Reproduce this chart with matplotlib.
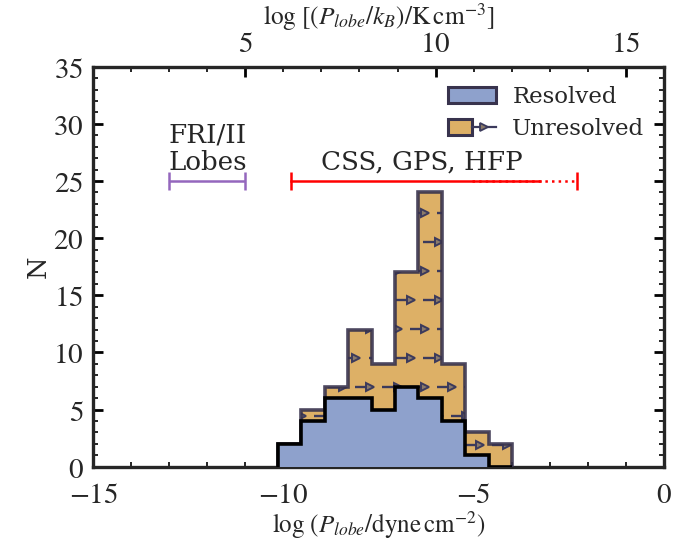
import numpy as np
import matplotlib
matplotlib.use("Agg")
import matplotlib.pyplot as plt
from matplotlib.patches import Patch
from matplotlib.lines import Line2D
from matplotlib.legend_handler import HandlerTuple
from matplotlib.ticker import FuncFormatter

plt.rcParams['font.family'] = ['DejaVu Serif']
plt.rcParams['mathtext.fontset'] = 'stix'

# histogram data
edges = np.array([-10.15, -9.53, -8.92, -8.30, -7.68, -7.07, -6.45, -5.83, -5.22, -4.60, -3.98])
resolved = np.array([2, 4, 6, 6, 5, 7, 6, 4, 1, 0])
unresolved = np.array([0, 1, 1, 6, 4, 10, 18, 5, 2, 2])
total = resolved + unresolved

# pressure ranges
fr_range = [-13.0, -11.0]
css_solid = [-9.8, -3.25]
css_dotted = [-5.05, -2.28]
range_y = 25

c_blue = '#8ea1cc'
c_orange = '#ddb066'
c_edge = '#38334d'
c_hatch = '#3b3a5c'
c_text = '#262626'

mathfmt = FuncFormatter(lambda v, p: r'$%g$' % v)

fig = plt.figure(figsize=(6.99, 5.42), dpi=100)
ax = fig.add_axes([0.1335, 0.139, 0.816, 0.738])

tot = ax.stairs(total, edges, fill=True, facecolor=c_orange, edgecolor='none', zorder=1)
ax.stairs(total, edges, fill=False, edgecolor=c_edge, lw=2.6, alpha=0.9, zorder=3)

# arrow "hatch" inside the unresolved histogram
dy = 2.535
dx = 0.72
shaft = 0.4
for i, yy in enumerate(np.arange(1.9, 25, dy)):
    off = (i % 2) * dx / 2
    starts = np.arange(-11 + off, -3, dx)
    for s in starts:
        ln, = ax.plot([s, s + shaft], [yy, yy], color=c_hatch, lw=1.7, zorder=2,
                      solid_capstyle='butt')
        ln.set_clip_path(tot)
    mk, = ax.plot(starts + shaft, np.full(len(starts), yy), ls='none', marker='>',
                  ms=5.5, mfc='#8a7a6a', mec=c_hatch, mew=1.4, zorder=2)
    mk.set_clip_path(tot)

ax.stairs(resolved, edges, fill=True, facecolor=c_blue, edgecolor='none', zorder=4)
ax.stairs(resolved, edges, fill=False, edgecolor='black', lw=2.6, zorder=5)

# range bars
ax.errorbar(np.mean(fr_range), range_y, xerr=(fr_range[1] - fr_range[0]) / 2,
            fmt='none', ecolor='#9467bd', elinewidth=1.8, capsize=6.5, capthick=1.8)
ax.plot(css_solid, [range_y, range_y], color='red', lw=1.8)
ax.plot(css_dotted, [range_y, range_y], color='red', lw=1.8, ls=':')
ax.plot([css_solid[0], css_dotted[1]], [range_y, range_y], ls='none', marker='|',
        ms=13, mew=1.8, color='red')

ax.text(np.mean(fr_range), 25.55, 'FRI/II\nLobes', ha='center', va='bottom',
        fontsize=18.8, color=c_text, linespacing=1.12)
ax.text(-6.35, 25.55, 'CSS, GPS, HFP', ha='center', va='bottom', fontsize=18.8,
        color=c_text)

ax.set_xlim(-15, 0)
ax.set_ylim(0, 35)
ax.set_xticks(np.arange(-15, 1, 5))
ax.set_xticks(np.arange(-15, 1, 1), minor=True)
ax.set_yticks(np.arange(0, 36, 5))
ax.set_yticks(np.arange(0, 36, 1), minor=True)
ax.xaxis.set_major_formatter(mathfmt)
ax.yaxis.set_major_formatter(mathfmt)
ax.tick_params(which='both', direction='in', right=True, top=False,
               labelsize=21, labelcolor=c_text, width=2)
ax.tick_params(which='major', length=7, pad=7)
ax.tick_params(axis='x', which='major', pad=10.5)
ax.tick_params(which='minor', length=3.5, width=1.2)
for sp in ax.spines.values():
    sp.set_linewidth(2.4)
    sp.set_color(c_text)

ax.set_xlabel(r'$\log\,(P_{lobe}/{\rm dyne\,cm^{-2}})$', fontsize=18, color=c_text,
              labelpad=0)
ax.set_ylabel('N', fontsize=18.5, color=c_text, labelpad=2)

top = ax.secondary_xaxis('top', functions=(lambda x: x + 16, lambda x: x - 16))
top.set_xticks([5, 10, 15])
top.set_xticks(np.arange(1, 17, 1), minor=True)
top.xaxis.set_major_formatter(mathfmt)
top.tick_params(which='both', direction='in', labelsize=21, labelcolor=c_text,
                width=2)
top.tick_params(which='major', length=7, pad=6)
top.tick_params(which='minor', length=3.5, width=1.2)
top.set_xlabel(r'$\log\,[(P_{lobe}/k_B)/{\rm K\,cm^{-3}}]$', fontsize=18.3,
               color=c_text, labelpad=4)

h_res = Patch(facecolor=c_blue, edgecolor=c_edge, lw=2.2)
h_unres = (Patch(facecolor=c_orange, edgecolor=c_edge, lw=2.2),
           Line2D([], [], color=c_hatch, lw=1.6, marker='>', ms=5.5, mfc='#8a7a6a',
                  mec=c_hatch, mew=1.3))
ax.legend([h_res, h_unres], ['Resolved', 'Unresolved'], loc='upper left',
          bbox_to_anchor=(0.622, 0.952), frameon=False, fontsize=16.5,
          handlelength=2.1, handleheight=0.74, handletextpad=0.7,
          labelspacing=0.45, borderpad=0, borderaxespad=0,
          handler_map={tuple: HandlerTuple(ndivide=None)}, labelcolor=c_text)

fig.savefig('out.png', dpi=100)
